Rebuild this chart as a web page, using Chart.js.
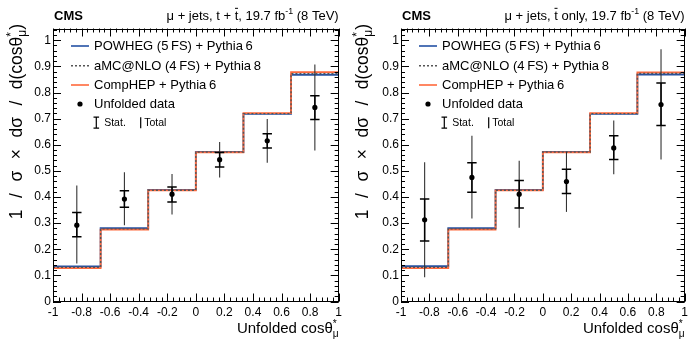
<!DOCTYPE html>
<html><head><meta charset="utf-8">
<script src="https://cdn.jsdelivr.net/npm/chart.js@4.4.0/dist/chart.umd.min.js"></script>
<style>
html,body{margin:0;padding:0;background:#fff;}
#wrap{position:relative;width:692px;height:340px;}
canvas{position:absolute;top:0;}
</style></head><body>
<div id="wrap"><canvas id="c1" width="346" height="340" style="left:0"></canvas><canvas id="c2" width="346" height="340" style="left:346px"></canvas></div>
<script>
// ---- data ----
const binEdges = [-1, -2/3, -1/3, 0, 1/3, 2/3, 1];
const binCenters = [-5/6, -1/2, -1/6, 1/6, 1/2, 5/6];
const xTickValues = [-1, -0.8, -0.6, -0.4, -0.2, 0, 0.2, 0.4, 0.6, 0.8, 1];
const xTickLabels = ['-1', '-0.8', '-0.6', '-0.4', '-0.2', '0', '0.2', '0.4', '0.6', '0.8', '1'];
const yTickValues = [0, 0.1, 0.2, 0.3, 0.4, 0.5, 0.6, 0.7, 0.8, 0.9, 1];
const yTickLabels = ['0', '0.1', '0.2', '0.3', '0.4', '0.5', '0.6', '0.7', '0.8', '0.9', '1'];

// left panel: t + tbar
const powhegTT  = [0.134, 0.281, 0.427, 0.573, 0.718, 0.868];
const amcnloTT  = [0.131, 0.278, 0.426, 0.572, 0.719, 0.872];
const comphepTT = [0.128, 0.275, 0.425, 0.571, 0.721, 0.878];
const dataTT    = [0.292, 0.392, 0.411, 0.543, 0.615, 0.743];
const statLoTT  = [0.248, 0.361, 0.381, 0.515, 0.588, 0.697];
const statHiTT  = [0.341, 0.424, 0.438, 0.570, 0.642, 0.788];
const totLoTT   = [0.145, 0.292, 0.333, 0.475, 0.531, 0.578];
const totHiTT   = [0.444, 0.495, 0.488, 0.611, 0.699, 0.907];

// right panel: tbar only
const powhegTB  = [0.135, 0.281, 0.427, 0.573, 0.718, 0.869];
const amcnloTB  = [0.131, 0.278, 0.426, 0.572, 0.719, 0.873];
const comphepTB = [0.128, 0.275, 0.425, 0.571, 0.721, 0.877];
const dataTB    = [0.313, 0.475, 0.411, 0.459, 0.588, 0.754];
const statLoTB  = [0.232, 0.418, 0.358, 0.413, 0.544, 0.674];
const statHiTB  = [0.392, 0.531, 0.463, 0.506, 0.634, 0.836];
const totLoTB   = [0.093, 0.318, 0.282, 0.343, 0.487, 0.544];
const totHiTB   = [0.533, 0.634, 0.539, 0.573, 0.693, 0.966];

const FAM = '"Liberation Sans", Arial, Helvetica, sans-serif';
const BLUE = '#2451a4', ORANGE = '#ff6a3d', DOT = '#555555';

// ---- rich text helper ----
function segWidth(ctx, s, size, weight) {
  if (s.g !== undefined) return s.g;
  const small = size * 0.68;
  if (s.ss) {
    ctx.font = `${small}px ${FAM}`;
    return Math.max(ctx.measureText(s.ss[0]).width, ctx.measureText(s.ss[1]).width);
  }
  if (s.sup || s.sub) { ctx.font = `${small}px ${FAM}`; return ctx.measureText(s.t).width; }
  ctx.font = `${weight || ''} ${size}px ${FAM}`;
  return ctx.measureText(s.t).width;
}
function drawRich(ctx, segs, x, y, align, size, weight) {
  ctx.save();
  ctx.textAlign = 'left'; ctx.textBaseline = 'alphabetic'; ctx.fillStyle = '#000';
  const ws = segs.map(s => segWidth(ctx, s, size, weight));
  const total = ws.reduce((a, b) => a + b, 0);
  let cx = align === 'right' ? x - total : x;
  const small = size * 0.68;
  segs.forEach((s, i) => {
    const w = ws[i];
    if (s.g !== undefined) { cx += w; return; }
    if (s.ss) {
      ctx.font = `${small}px ${FAM}`;
      ctx.fillText(s.ss[0], cx, y - size * 0.40);
      ctx.fillText(s.ss[1], cx, y + size * 0.26);
    } else if (s.sup) {
      ctx.font = `${small}px ${FAM}`;
      ctx.fillText(s.t, cx, y - size * 0.40);
    } else if (s.sub) {
      ctx.font = `${small}px ${FAM}`;
      ctx.fillText(s.t, cx, y + size * 0.25);
    } else {
      ctx.font = `${weight || ''} ${size}px ${FAM}`;
      ctx.fillText(s.t, cx, y);
      if (s.bar) {
        ctx.strokeStyle = '#000'; ctx.lineWidth = 1;
        ctx.beginPath(); ctx.moveTo(cx + 0.3, y - size * 0.86); ctx.lineTo(cx + w - 0.3, y - size * 0.86); ctx.stroke();
      }
    }
    cx += w;
  });
  ctx.restore();
}

function hist(vals) {
  return binEdges.map((e, i) => ({ x: e, y: vals[Math.min(i, vals.length - 1)] }));
}

function panelPlugin(cfg) {
  return {
    id: 'panel' + cfg.id,
    beforeDatasetDraw(chart, args) {
      if (args.index !== 0) return;
      const ctx = chart.ctx, xs = chart.scales.x, ys = chart.scales.y;
      ctx.save();
      binCenters.forEach((c, i) => {
        const px = xs.getPixelForValue(c);
        ctx.strokeStyle = '#333'; ctx.lineWidth = 1.1;
        ctx.beginPath(); ctx.moveTo(px, ys.getPixelForValue(cfg.totLo[i])); ctx.lineTo(px, ys.getPixelForValue(cfg.totHi[i])); ctx.stroke();
        const lo = ys.getPixelForValue(cfg.statLo[i]), hi = ys.getPixelForValue(cfg.statHi[i]);
        ctx.strokeStyle = '#000'; ctx.lineWidth = 1.5;
        ctx.beginPath(); ctx.moveTo(px, lo); ctx.lineTo(px, hi);
        ctx.moveTo(px - 4.7, lo); ctx.lineTo(px + 4.7, lo);
        ctx.moveTo(px - 4.7, hi); ctx.lineTo(px + 4.7, hi);
        ctx.stroke();
      });
      ctx.restore();
    },
    afterDraw(chart) {
      const ctx = chart.ctx, a = chart.chartArea, xs = chart.scales.x, ys = chart.scales.y;
      ctx.save();
      ctx.strokeStyle = '#000'; ctx.lineWidth = 1;
      ctx.strokeRect(Math.round(a.left) + 0.5, Math.round(a.top) + 0.5, Math.round(a.right - a.left) - 1, Math.round(a.bottom - a.top) - 1);
      ctx.beginPath();
      for (let k = 0; k <= 50; k++) {
        const v = -1 + k * 0.04;
        const px = Math.round(xs.getPixelForValue(v)) + 0.5;
        const len = (k % 5 === 0) ? 8 : 4;
        ctx.moveTo(px, a.bottom); ctx.lineTo(px, a.bottom - len);
        ctx.moveTo(px, a.top); ctx.lineTo(px, a.top + len);
      }
      for (let k = 0; k <= 52; k++) {
        const v = k * 0.02;
        if (v > ys.max) break;
        const py = Math.round(ys.getPixelForValue(v)) + 0.5;
        const len = (k % 5 === 0) ? 8 : 4;
        ctx.moveTo(a.left, py); ctx.lineTo(a.left + len, py);
        ctx.moveTo(a.right, py); ctx.lineTo(a.right - len, py);
      }
      ctx.stroke();

      // legend
      const L = a.left, T = a.top;
      const rows = [T + 17.5, T + 37.2, T + 56.5, T + 75.5, T + 94.2];
      const items = [
        { c: BLUE, dash: [], t: 'POWHEG (5\u2009FS) + Pythia\u20096' },
        { c: DOT, dash: [2, 2], t: 'aMC@NLO (4\u2009FS) + Pythia\u20098' },
        { c: ORANGE, dash: [], t: 'CompHEP + Pythia\u20096' }
      ];
      ctx.font = `13px ${FAM}`; ctx.fillStyle = '#000'; ctx.textBaseline = 'middle'; ctx.textAlign = 'left';
      items.forEach((it, i) => {
        ctx.strokeStyle = it.c; ctx.lineWidth = 1.6; ctx.setLineDash(it.dash);
        ctx.beginPath(); ctx.moveTo(L + 18, rows[i]); ctx.lineTo(L + 36, rows[i]); ctx.stroke();
        ctx.setLineDash([]);
        ctx.fillText(it.t, L + 41, rows[i] + 0.5);
      });
      ctx.beginPath(); ctx.arc(L + 27, rows[3], 2.6, 0, Math.PI * 2); ctx.fill();
      ctx.fillText('Unfolded data', L + 41, rows[3] + 0.5);
      const r5 = rows[4];
      ctx.strokeStyle = '#000'; ctx.lineWidth = 1.2;
      ctx.beginPath();
      ctx.moveTo(L + 43.3, r5 - 5.5); ctx.lineTo(L + 43.3, r5 + 5.5);
      ctx.moveTo(L + 40.5, r5 + 5.5); ctx.lineTo(L + 46.1, r5 + 5.5);
      ctx.moveTo(L + 40.5, r5 - 5.5); ctx.lineTo(L + 46.1, r5 - 5.5);
      ctx.moveTo(L + 87.7, r5 - 5.5); ctx.lineTo(L + 87.7, r5 + 5.5);
      ctx.stroke();
      ctx.font = `10.5px ${FAM}`;
      ctx.fillText('Stat.', L + 51.2, r5 + 0.5);
      ctx.fillText('Total', L + 91.2, r5 + 0.5);

      // top labels
      ctx.font = `bold 13px ${FAM}`; ctx.textBaseline = 'alphabetic';
      ctx.fillText('CMS', L + 1, 19.5);
      drawRich(ctx, cfg.topText, a.right, 19.5, 'right', 13);

      // axis titles
      drawRich(ctx, [{ t: 'Unfolded cos\u03B8' }, { ss: ['*', '\u03BC'] }], a.right, 333, 'right', 15);
      ctx.translate(21.5, 24);
      ctx.rotate(-Math.PI / 2);
      drawRich(ctx, [{ t: '1' }, { g: 11.5 }, { t: '/' }, { g: 11.5 }, { t: '\u03C3' }, { g: 11.5 }, { t: '\u00D7' }, { g: 11.5 }, { t: 'd\u03C3' }, { g: 11.5 }, { t: '/' }, { g: 11.5 }, { t: 'd(cos\u03B8' }, { ss: ['*', '\u03BC'] }, { t: ')' }], 0, 0, 'right', 17.5);
      ctx.restore();
    }
  };
}

function makePanel(id, cfg) {
  return new Chart(document.getElementById(id), {
    type: 'line',
    data: {
      datasets: [
        { type: 'scatter', data: binCenters.map((c, i) => ({ x: c, y: cfg.data[i] })), pointRadius: 2.6, pointHoverRadius: 2.6, pointBackgroundColor: '#000', pointBorderWidth: 0, showLine: false },
        { type: 'line', data: hist(cfg.amc), borderColor: DOT, borderWidth: 1.4, borderDash: [2, 2], stepped: true, pointRadius: 0, fill: false },
        { type: 'line', data: hist(cfg.comphep), borderColor: ORANGE, borderWidth: 1.8, stepped: true, pointRadius: 0, fill: false },
        { type: 'line', data: hist(cfg.powheg), borderColor: BLUE, borderWidth: 1.8, stepped: true, pointRadius: 0, fill: false }
      ]
    },
    options: {
      responsive: false, animation: false, devicePixelRatio: 1,
      layout: { padding: { left: 0, right: cfg.padRight, top: 28.5, bottom: 0 } },
      plugins: { legend: { display: false }, tooltip: { enabled: false } },
      events: [],
      scales: {
        x: {
          type: 'linear', min: -1, max: 1,
          afterBuildTicks: s => { s.ticks = xTickValues.map(v => ({ value: v })); },
          afterFit: s => { s.height = 38.5; },
          ticks: { callback: (v, i) => xTickLabels[i], color: '#000', font: { family: FAM, size: 12 }, padding: 4, maxRotation: 0, autoSkip: false },
          grid: { display: false, drawTicks: false }, border: { display: false }
        },
        y: {
          type: 'linear', min: 0, max: 1.045,
          afterBuildTicks: s => { s.ticks = yTickValues.map(v => ({ value: v })); },
          afterFit: s => { s.width = cfg.yWidth; },
          ticks: { callback: (v, i) => yTickLabels[i], color: '#000', font: { family: FAM, size: 12 }, padding: 2, autoSkip: false },
          grid: { display: false, drawTicks: false }, border: { display: false }
        }
      }
    },
    plugins: [panelPlugin(cfg)]
  });
}

makePanel('c1', {
  id: 1, padRight: 5.5, yWidth: 53,
  powheg: powhegTT, amc: amcnloTT, comphep: comphepTT,
  data: dataTT, statLo: statLoTT, statHi: statHiTT, totLo: totLoTT, totHi: totHiTT,
  topText: [{ t: '\u03BC + jets, t + ' }, { t: 't', bar: true }, { t: ', 19.7 fb' }, { t: '-1', sup: true }, { t: ' (8 TeV)' }]
});
makePanel('c2', {
  id: 2, padRight: 4.3, yWidth: 55,
  powheg: powhegTB, amc: amcnloTB, comphep: comphepTB,
  data: dataTB, statLo: statLoTB, statHi: statHiTB, totLo: totLoTB, totHi: totHiTB,
  topText: [{ t: '\u03BC + jets, ' }, { t: 't', bar: true }, { t: ' only, 19.7 fb' }, { t: '-1', sup: true }, { t: ' (8 TeV)' }]
});
</script>
</body></html>
